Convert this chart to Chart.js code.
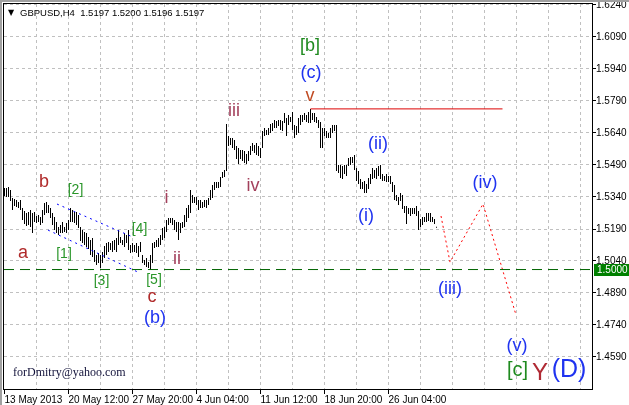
<!DOCTYPE html>
<html>
<head>
<meta charset="utf-8">
<script src="https://cdn.jsdelivr.net/npm/chart.js@4.4.0/dist/chart.umd.min.js"></script>
<style>
  html, body { margin: 0; padding: 0; background: #fff; }
  canvas { display: block; }
</style>
</head>
<body>
<canvas id="chart" width="629" height="405"></canvas>
<script>
// GBPUSD H4, one bar every 4 hours, bar 0 = 13 May 2013
const barHighs = [
  1.5382, 1.5382, 1.5387, 1.5373, 1.5335, 1.5331, 1.5326, 1.5317, 1.5326, 1.5288,
  1.5274, 1.5265, 1.5270, 1.5279, 1.5265, 1.5270, 1.5251, 1.5256, 1.5246, 1.5279,
  1.5312, 1.5317, 1.5302, 1.5288, 1.5265, 1.5246, 1.5223, 1.5199, 1.5209, 1.5223,
  1.5199, 1.5218, 1.5232, 1.5288, 1.5279, 1.5270, 1.5270, 1.5256, 1.5199, 1.5185,
  1.5176, 1.5171, 1.5152, 1.5138, 1.5148, 1.5092, 1.5068, 1.5077, 1.5068, 1.5082,
  1.5110, 1.5124, 1.5129, 1.5124, 1.5134, 1.5138, 1.5148, 1.5185, 1.5152, 1.5138,
  1.5171, 1.5162, 1.5185, 1.5115, 1.5124, 1.5115, 1.5124, 1.5110, 1.5129, 1.5068,
  1.5045, 1.5054, 1.5035, 1.5068, 1.5124, 1.5129, 1.5138, 1.5148, 1.5162, 1.5195,
  1.5199, 1.5232, 1.5242, 1.5242, 1.5242, 1.5232, 1.5223, 1.5223, 1.5218, 1.5223,
  1.5256, 1.5288, 1.5302, 1.5373, 1.5349, 1.5340, 1.5340, 1.5326, 1.5326, 1.5317,
  1.5326, 1.5326, 1.5335, 1.5373, 1.5396, 1.5410, 1.5410, 1.5410, 1.5434, 1.5457,
  1.5467, 1.5682, 1.5626, 1.5617, 1.5617, 1.5607, 1.5579, 1.5570, 1.5560, 1.5560,
  1.5556, 1.5542, 1.5556, 1.5579, 1.5593, 1.5584, 1.5593, 1.5579, 1.5570, 1.5649,
  1.5663, 1.5654, 1.5663, 1.5682, 1.5687, 1.5701, 1.5696, 1.5701, 1.5701, 1.5696,
  1.5734, 1.5710, 1.5724, 1.5715, 1.5738, 1.5678, 1.5673, 1.5710, 1.5724, 1.5724,
  1.5734, 1.5724, 1.5738, 1.5753, 1.5734, 1.5734, 1.5715, 1.5701, 1.5692, 1.5663,
  1.5663, 1.5649, 1.5640, 1.5663, 1.5678, 1.5678, 1.5678, 1.5490, 1.5490, 1.5485,
  1.5490, 1.5490, 1.5523, 1.5527, 1.5527, 1.5537, 1.5476, 1.5462, 1.5424, 1.5410,
  1.5415, 1.5401, 1.5429, 1.5448, 1.5476, 1.5467, 1.5476, 1.5485, 1.5490, 1.5448,
  1.5438, 1.5448, 1.5438, 1.5438, 1.5410, 1.5396, 1.5349, 1.5340, 1.5359, 1.5349,
  1.5298, 1.5298, 1.5288, 1.5288, 1.5288, 1.5288, 1.5298, 1.5274, 1.5237, 1.5246,
  1.5246, 1.5265, 1.5265, 1.5265, 1.5246, 1.5237, 1.5200
];
const barLows = [
  1.5345, 1.5340, 1.5340, 1.5321, 1.5279, 1.5298, 1.5293, 1.5288, 1.5279, 1.5232,
  1.5213, 1.5204, 1.5209, 1.5199, 1.5171, 1.5223, 1.5218, 1.5223, 1.5209, 1.5218,
  1.5256, 1.5265, 1.5265, 1.5242, 1.5209, 1.5185, 1.5171, 1.5162, 1.5171, 1.5171,
  1.5176, 1.5171, 1.5185, 1.5223, 1.5223, 1.5218, 1.5209, 1.5195, 1.5134, 1.5124,
  1.5115, 1.5106, 1.5096, 1.5068, 1.5059, 1.5035, 1.5021, 1.5031, 1.5007, 1.5031,
  1.5054, 1.5068, 1.5082, 1.5092, 1.5082, 1.5092, 1.5082, 1.5115, 1.5124, 1.5115,
  1.5106, 1.5124, 1.5092, 1.5077, 1.5082, 1.5082, 1.5077, 1.5059, 1.5082, 1.5031,
  1.5021, 1.5012, 1.5007, 1.4998, 1.5031, 1.5101, 1.5106, 1.5106, 1.5115, 1.5138,
  1.5148, 1.5176, 1.5209, 1.5218, 1.5209, 1.5185, 1.5176, 1.5138, 1.5171, 1.5195,
  1.5199, 1.5223, 1.5242, 1.5265, 1.5312, 1.5312, 1.5302, 1.5279, 1.5288, 1.5288,
  1.5293, 1.5288, 1.5302, 1.5326, 1.5335, 1.5373, 1.5382, 1.5382, 1.5387, 1.5429,
  1.5434, 1.5462, 1.5579, 1.5584, 1.5570, 1.5560, 1.5518, 1.5495, 1.5518, 1.5509,
  1.5499, 1.5495, 1.5509, 1.5537, 1.5556, 1.5546, 1.5537, 1.5532, 1.5523, 1.5570,
  1.5626, 1.5631, 1.5631, 1.5640, 1.5649, 1.5663, 1.5663, 1.5673, 1.5654, 1.5649,
  1.5687, 1.5626, 1.5678, 1.5692, 1.5654, 1.5617, 1.5631, 1.5640, 1.5678, 1.5692,
  1.5701, 1.5692, 1.5687, 1.5687, 1.5701, 1.5692, 1.5687, 1.5663, 1.5570, 1.5570,
  1.5626, 1.5617, 1.5617, 1.5617, 1.5640, 1.5649, 1.5462, 1.5452, 1.5429, 1.5424,
  1.5448, 1.5438, 1.5485, 1.5490, 1.5499, 1.5467, 1.5415, 1.5401, 1.5377, 1.5377,
  1.5359, 1.5359, 1.5377, 1.5401, 1.5424, 1.5429, 1.5424, 1.5438, 1.5424, 1.5415,
  1.5415, 1.5410, 1.5410, 1.5401, 1.5363, 1.5326, 1.5321, 1.5302, 1.5321, 1.5284,
  1.5265, 1.5213, 1.5260, 1.5251, 1.5260, 1.5260, 1.5251, 1.5185, 1.5199, 1.5209,
  1.5223, 1.5223, 1.5227, 1.5223, 1.5223, 1.5213, 1.5196
];

// time axis labels (bar index -> text)
const xTickBars = [0, 32, 64, 96, 128, 160, 192];
const xTickLabels = ['13 May 2013', '20 May 12:00', '27 May 20:00', '4 Jun 04:00',
  '11 Jun 12:00', '18 Jun 20:00', '26 Jun 04:00'];
const yTicks = [1.4590, 1.4740, 1.4890, 1.5040, 1.5190, 1.5340, 1.5490, 1.5640,
  1.5790, 1.5940, 1.6090, 1.6240];

// drawn objects
const supportLevel = 1.5000;
const topLevel = [{x: 153, y: 1.5753}, {x: 249, y: 1.5753}];
const channelUpper = [{x: 26.25, y: 1.5307}, {x: 64.25, y: 1.5152}];
const channelLower = [{x: 21.75, y: 1.5185}, {x: 66.75, y: 1.4988}];
const forecastPath = [{x: 218.25, y: 1.5251}, {x: 222.75, y: 1.5035},
  {x: 239.25, y: 1.5307}, {x: 255.75, y: 1.4787}];

// wave marks: text, bar index, price of the baseline, style
const waveTexts  = ['a', 'b', 'c', '[1]', '[2]', '[3]', '[4]', '[5]', '(b)', 'i', 'ii', 'iii', 'iv', 'v',
  '(c)', '[b]', '(i)', '(ii)', '(iii)', '(iv)', '(v)', '[c]', 'Y', '(D)'];
const waveBars   = [9.25, 19.75, 73.75, 29.75, 35.5, 48.5, 67.5, 74.75, 75.25, 81, 86.25, 114.75, 124.25, 152.75,
  153.25, 152.75, 180.75, 186.75, 222.75, 240.25, 256.25, 256.5, 267.75, 282.25];
const wavePrices = [1.5054, 1.5387, 1.4848, 1.5054, 1.5354, 1.4928, 1.5171, 1.4932, 1.4749, 1.5312, 1.5026, 1.5720, 1.5368, 1.5790,
  1.5898, 1.6024, 1.5227, 1.5565, 1.4885, 1.5382, 1.4618, 1.4501, 1.4482, 1.4496];
const waveKinds  = ['red', 'red', 'red', 'g14', 'g14', 'g14', 'g14', 'g14', 'blue', 'brown', 'brown', 'brown', 'brown', 'orange',
  'blue', 'g18', 'blue', 'blue', 'blue', 'blue', 'blue', 'g20', 'red24', 'blue24'];

const waveStyles = {
  red:    {font: '18px "Liberation Sans"', color: '#b02a2a'},
  brown:  {font: '18px "Liberation Sans"', color: '#a3405c'},
  orange: {font: '18px "Liberation Sans"', color: '#c04a22'},
  g14:    {font: '14px "Liberation Sans"', color: '#2a962a'},
  g18:    {font: '18px "Liberation Sans"', color: '#1f8a1f'},
  g20:    {font: '20px "Liberation Sans"', color: '#1f8a1f'},
  blue:   {font: '18px "Liberation Sans"', color: '#1f33f0'},
  red24:  {font: '24px "Liberation Sans"', color: '#b02a34'},
  blue24: {font: '25px "Liberation Sans"', color: '#1f33f0'}
};

const bars = barHighs.map((h, i) => ({x: i, y: [barLows[i], h]}));
const gridBars = [];
for (let b = 0; b <= 288; b += 16) gridBars.push(b);

const overlay = {
  id: 'overlay',
  afterDraw(chart) {
    const {ctx, chartArea: a, scales: {x, y}} = chart;
    ctx.save();

    // wave labels
    ctx.textAlign = 'center';
    ctx.textBaseline = 'alphabetic';
    waveTexts.forEach((t, i) => {
      const s = waveStyles[waveKinds[i]];
      ctx.font = s.font;
      ctx.fillStyle = s.color;
      ctx.fillText(t, x.getPixelForValue(waveBars[i]), y.getPixelForValue(wavePrices[i]));
    });

    // header and signature
    ctx.textAlign = 'left';
    ctx.fillStyle = '#000';
    ctx.font = '8px "DejaVu Sans"';
    ctx.fillText('\u25BC', 8, 15);
    ctx.font = '9.5px "Liberation Sans"';
    ctx.fillText('GBPUSD,H4  1.5197 1.5200 1.5196 1.5197', 20, 16);
    ctx.font = '12px "Liberation Serif"';
    ctx.fillStyle = '#12123a';
    ctx.fillText('forDmitry@yahoo.com', 13, 376);

    // plot frame and window edge
    ctx.strokeStyle = '#000';
    ctx.lineWidth = 1;
    ctx.strokeRect(a.left - 0.5, a.top - 0.5, a.right - a.left + 1, a.bottom - a.top + 1);
    ctx.fillStyle = '#a0a0a0';
    ctx.fillRect(0, 0, chart.width, 2);
    ctx.fillRect(0, 0, 2, chart.height);

    // price marker of the level
    const py = y.getPixelForValue(supportLevel);
    ctx.fillStyle = '#008000';
    ctx.fillRect(a.right + 2, Math.round(py) - 6, 35, 12);
    ctx.fillStyle = '#fff';
    ctx.font = '10px "Liberation Sans"';
    ctx.textBaseline = 'middle';
    ctx.fillText(supportLevel.toFixed(4), a.right + 5, Math.round(py));
    ctx.restore();
  }
};

Chart.defaults.color = '#000';

new Chart(document.getElementById('chart'), {
  type: 'bar',
  data: {
    datasets: [
      {
        type: 'bar', data: bars, backgroundColor: '#000', barThickness: 1,
        borderWidth: 0, inflateAmount: 0, grouped: false, order: 10
      },
      {
        type: 'line', data: [{x: -0.25, y: supportLevel}, {x: 293.75, y: supportLevel}],
        borderColor: '#006400', borderWidth: 1, borderDash: [10, 6], pointRadius: 0, fill: false
      },
      {
        type: 'line', data: topLevel, borderColor: '#dd0000', borderWidth: 1,
        pointRadius: 0, fill: false
      },
      {
        type: 'line', data: channelUpper, borderColor: '#0000ff', borderWidth: 1,
        borderDash: [2, 4], pointRadius: 0, fill: false
      },
      {
        type: 'line', data: channelLower, borderColor: '#0000ff', borderWidth: 1,
        borderDash: [2, 4], pointRadius: 0, fill: false
      },
      {
        type: 'line', data: forecastPath, borderColor: '#ff0000', borderWidth: 1,
        borderDash: [2, 3], pointRadius: 0, fill: false, tension: 0
      }
    ]
  },
  options: {
    responsive: false,
    animation: false,
    devicePixelRatio: 1,
    events: [],
    layout: {padding: {left: 4, top: 4, right: 0, bottom: 0}},
    plugins: {legend: {display: false}, tooltip: {enabled: false}},
    scales: {
      x: {
        type: 'linear', min: -0.25, max: 293.75, offset: false,
        afterBuildTicks: s => { s.ticks = gridBars.map(v => ({value: v})); },
        afterFit: s => { s.height = 16; s.paddingLeft = 0; s.paddingRight = 0; },
        grid: {
          offset: false, lineWidth: 1, tickLength: 5, tickBorderDash: [],
          color: c => (c.tick && c.tick.value === 0) ? 'rgba(0,0,0,0)' : '#c0c0c0',
          tickColor: c => (c.tick && xTickBars.includes(c.tick.value)) ? '#000' : 'rgba(0,0,0,0)'
        },
        border: {display: false, dash: [3, 3]},
        ticks: {
          autoSkip: false, maxRotation: 0, minRotation: 0, align: 'start', padding: 0,
          color: '#000', font: {family: 'Liberation Sans', size: 10},
          callback: v => {
            const k = xTickBars.indexOf(v);
            return k >= 0 ? xTickLabels[k] : '';
          }
        }
      },
      y: {
        type: 'linear', position: 'right', min: 1.4440, max: 1.62446875,
        afterBuildTicks: s => { s.ticks = yTicks.map(v => ({value: v})); },
        afterFit: s => { s.width = 37; s.paddingTop = 0; s.paddingBottom = 0; },
        grid: {lineWidth: 1, color: '#c0c0c0', tickLength: 4, tickColor: '#000', tickBorderDash: []},
        border: {display: false, dash: [3, 3]},
        ticks: {
          padding: 0, color: '#000', font: {family: 'Liberation Sans', size: 10},
          callback: v => v.toFixed(4)
        }
      }
    }
  },
  plugins: [overlay]
});
</script>
</body>
</html>
